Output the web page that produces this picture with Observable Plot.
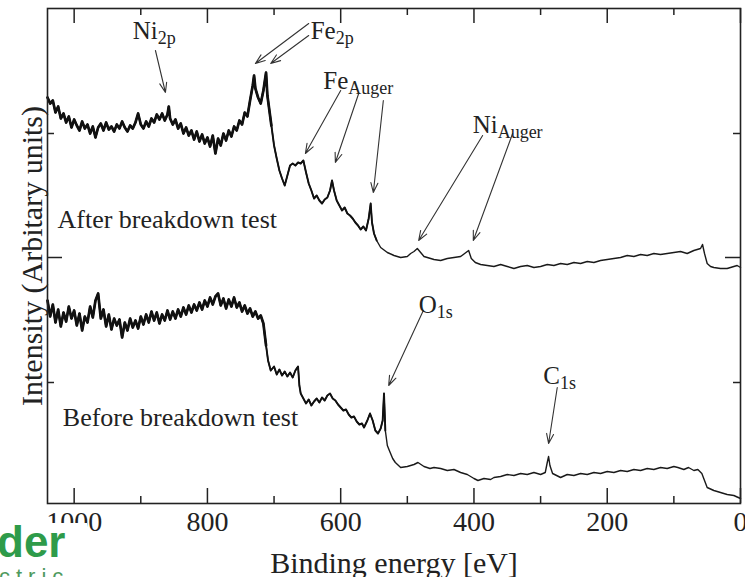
<!DOCTYPE html>
<html><head><meta charset="utf-8">
<script src="https://cdn.jsdelivr.net/npm/d3@7"></script>
<script src="https://cdn.jsdelivr.net/npm/@observablehq/plot@0.6"></script>
<style>
html,body{margin:0;padding:0;background:#fff;}
#wrap{position:relative;width:745px;height:577px;overflow:hidden;}
#logo{position:absolute;left:0;top:523px;width:87px;height:54px;background:#fff;overflow:hidden;}
#logo .der{position:absolute;left:-3px;top:-3px;font-family:'Liberation Sans',Arial,sans-serif;font-weight:bold;font-size:44px;line-height:1;color:#2e9b4a;}
#logo .ctric{position:absolute;left:-1px;top:43px;font-family:'Liberation Sans',Arial,sans-serif;font-size:22px;letter-spacing:6px;line-height:1;color:#4f9a5e;}
</style></head>
<body><div id="wrap"><div id="chart"></div><div id="logo"><div class="der">der</div><div class="ctric">ctric</div></div></div>
<script>
// Binding energy [eV], intensity (arbitrary units)
const afterSpectrum = [
[1040,406],[1036,400],[1032,403],[1028,391],[1024,397],[1020,385],[1016,390],[1012,381],[1008,387],[1004,376],[1000,384],[996,378],[992,373],[988,382],[984,375],[980,379],[976,370],[972,377],[968,366],[964,376],[960,380],[956,373],[952,381],[948,374],[944,377],[940,372],[936,379],[932,375],[928,382],[924,376],[920,372],[916,378],[912,375],[908,381],[904,390],[900,379],[896,375],[892,382],[888,377],[884,385],[880,381],[876,389],[872,384],[868,390],[864,383],[860,389],[858,397],[856,385],[852,379],[848,384],[844,375],[840,380],[836,370],[832,376],[828,368],[824,373],[820,364],[816,372],[812,362],[808,369],[804,360],[800,366],[796,357],[792,368],[788,350],[784,365],[780,358],[776,370],[772,363],[768,373],[764,367],[760,377],[756,373],[752,383],[748,379],[744,391],[740,387],[736,403],[732,418],[730,428],[728,415],[724,406],[720,400],[716,413],[712,431],[710,408],[707,393],[704,378],[700,358],[696,345],[692,333],[688,325],[684,318],[680,328],[676,338],[672,340],[668,338],[664,341],[660,340],[656,343],[652,331],[648,320],[644,313],[640,305],[636,308],[632,303],[628,300],[624,304],[620,306],[616,313],[613,323],[610,313],[606,303],[602,298],[598,293],[594,296],[590,290],[586,288],[582,285],[578,281],[574,278],[570,274],[566,277],[562,273],[558,285],[555,300],[553,281],[550,270],[546,263],[540,256],[530,251],[520,248],[510,246],[500,247],[495,250],[490,252],[485,255],[480,251],[475,247],[470,246],[460,244],[450,243],[440,245],[430,246],[420,247],[412,251],[408,253],[404,245],[398,241],[390,239],[380,238],[370,237],[360,239],[350,237],[340,235],[330,237],[320,238],[310,236],[300,237],[290,239],[280,238],[270,240],[260,239],[250,241],[240,240],[230,242],[220,241],[210,243],[200,244],[190,245],[180,246],[170,248],[160,247],[150,249],[140,248],[130,250],[120,249],[110,250],[100,251],[90,252],[80,250],[70,253],[60,255],[57,259],[54,250],[50,240],[45,237],[40,236],[30,235],[20,235],[10,237],[5,238],[0,236]
];
const beforeSpectrum = [
[1040,203],[1036,187],[1032,199],[1028,181],[1024,194],[1020,177],[1016,191],[1012,182],[1008,197],[1004,185],[1000,193],[996,178],[992,190],[988,173],[984,187],[980,181],[976,197],[972,186],[968,203],[964,210],[960,185],[956,194],[952,177],[948,189],[944,174],[940,185],[936,178],[932,184],[928,166],[924,181],[920,173],[916,185],[912,176],[908,183],[904,175],[900,187],[896,179],[892,189],[888,181],[884,192],[880,183],[876,191],[872,180],[868,189],[864,183],[860,193],[856,184],[852,192],[848,185],[844,194],[840,187],[836,196],[832,189],[828,198],[824,191],[820,199],[816,193],[812,201],[808,194],[804,203],[800,197],[796,206],[792,199],[788,207],[784,210],[780,198],[776,205],[772,195],[768,204],[764,197],[760,206],[756,196],[752,201],[748,192],[744,198],[740,190],[736,195],[732,187],[728,192],[724,185],[720,188],[716,180],[712,158],[709,143],[705,133],[700,137],[696,129],[692,134],[688,128],[684,132],[680,127],[676,131],[672,126],[668,133],[664,137],[662,118],[660,110],[656,105],[652,100],[648,104],[644,98],[640,102],[636,105],[632,101],[628,106],[624,103],[620,108],[616,110],[612,105],[608,103],[604,99],[600,96],[596,93],[592,94],[588,89],[584,86],[580,87],[576,82],[572,79],[568,80],[565,76],[560,83],[556,90],[552,83],[548,73],[544,70],[540,75],[537,83],[535,110],[533,73],[530,58],[527,53],[522,45],[518,41],[510,36],[500,37],[490,39],[484,41],[475,37],[466,35],[460,36],[450,35],[440,33],[430,34],[420,31],[410,29],[400,25],[394,23],[385,25],[375,24],[370,26],[360,27],[350,29],[340,28],[330,30],[320,29],[310,31],[300,29],[293,31],[290,41],[288,47],[286,38],[282,30],[276,28],[270,26],[260,29],[250,28],[240,30],[230,29],[220,31],[210,30],[200,32],[190,31],[180,33],[170,32],[160,34],[150,33],[140,35],[130,34],[120,36],[110,35],[100,37],[94,36],[85,34],[78,36],[70,33],[64,34],[58,30],[54,23],[50,16],[40,13],[30,11],[20,9],[10,8],[0,5]
];

// Peak annotations ("main|subscript")
const labelText = ["Ni|2p", "Fe|2p", "Fe|Auger", "Ni|Auger", "O|1s", "C|1s"];
const labelEv   = [912, 645, 626, 402, 483, 296];
const labelI    = [465, 465, 415, 371, 191, 120];

const arrowFromEv = [878, 648, 648, 600, 573, 536, 387, 342, 476, 275];
const arrowFromI  = [453, 480, 468, 413, 410, 403, 368, 370, 193, 116];
const arrowToEv   = [863, 728, 705, 653, 608, 551, 483, 401, 528, 288];
const arrowToI    = [411, 440, 440, 350, 341, 311, 263, 263, 118, 60];

const curveNames = ["After breakdown test", "Before breakdown test"];
const curveNameEv = [1025, 1017];
const curveNameI  = [276, 78];

const xMajor = [1000, 800, 600, 400, 200, 0];
const xMinor = [900, 700, 500, 300, 100];
const yMajor = [246];
const yMinor = [121, 370];

const xTitle = "Binding energy [eV]";
const yTitle = "Intensity (Arbitary units)";

const after = afterSpectrum.map(([ev, i]) => ({ev, i}));
const before = beforeSpectrum.map(([ev, i]) => ({ev, i}));
const labels = labelText.map((t, k) => ({t, ev: labelEv[k], i: labelI[k]}));
const arrows = arrowFromEv.map((_, k) => ({x1: arrowFromEv[k], y1: arrowFromI[k], x2: arrowToEv[k], y2: arrowToI[k]}));
const names = curveNames.map((t, k) => ({t, ev: curveNameEv[k], i: curveNameI[k]}));

const ink = "#222";
const plot = Plot.plot({
  width: 745, height: 577,
  marginLeft: 47, marginRight: 5, marginTop: 8, marginBottom: 74,
  style: {fontFamily: "'Liberation Serif','Times New Roman',serif", fontSize: "28px", color: ink, background: "#fff", overflow: "visible"},
  x: {domain: [1040, 0]},
  y: {domain: [0, 495], axis: null},
  marks: [
    Plot.tickX(xMajor, {x: d => d, insetTop: 480, stroke: ink, strokeWidth: 1.5}),
    Plot.tickX(xMinor, {x: d => d, insetTop: 488, stroke: ink, strokeWidth: 1.5}),
    Plot.tickX(xMajor, {x: d => d, insetBottom: 480, stroke: ink, strokeWidth: 1.5}),
    Plot.tickX(xMinor, {x: d => d, insetBottom: 488, stroke: ink, strokeWidth: 1.5}),
    Plot.tickY(yMajor, {y: d => d, insetRight: 678, stroke: ink, strokeWidth: 1.5}),
    Plot.tickY(yMinor, {y: d => d, insetRight: 686, stroke: ink, strokeWidth: 1.5}),
    Plot.tickY(yMajor, {y: d => d, insetLeft: 678, stroke: ink, strokeWidth: 1.5}),
    Plot.tickY(yMinor, {y: d => d, insetLeft: 686, stroke: ink, strokeWidth: 1.5}),
    Plot.line(after, {x: "ev", y: "i", stroke: "#1a1a1a", strokeWidth: 1.4}),
    Plot.line(after.filter(d => d.ev >= 545), {x: "ev", y: "i", stroke: "#111", strokeWidth: 1.9}),
    Plot.line(after.filter(d => d.ev >= 704), {x: "ev", y: "i", stroke: "#111", strokeWidth: 2.7}),
    Plot.line(before, {x: "ev", y: "i", stroke: "#1a1a1a", strokeWidth: 1.4}),
    Plot.line(before.filter(d => d.ev >= 533), {x: "ev", y: "i", stroke: "#111", strokeWidth: 1.9}),
    Plot.line(before.filter(d => d.ev >= 712), {x: "ev", y: "i", stroke: "#111", strokeWidth: 2.7}),
    Plot.frame({stroke: ink, strokeWidth: 1.6}),
    Plot.arrow(arrows, {x1: "x1", y1: "y1", x2: "x2", y2: "y2", stroke: "#333", strokeWidth: 1.1, headLength: 14, headAngle: 40}),
    Plot.text(labels, {x: "ev", y: "i", text: "t", textAnchor: "start", lineAnchor: "bottom", fontSize: 25, fill: ink}),
    Plot.text(names, {x: "ev", y: "i", text: "t", textAnchor: "start", lineAnchor: "bottom", fontSize: 26, fill: ink}),
    Plot.axisX({ticks: xMajor, tickSize: 0, tickPadding: 8, tickFormat: d => String(d), label: null, fontSize: 28}),
    Plot.text([xTitle], {frameAnchor: "bottom", textAnchor: "middle", lineAnchor: "bottom", dy: 69, text: d => d, fontSize: 30, fill: ink}),
    Plot.text([yTitle], {frameAnchor: "left", textAnchor: "middle", lineAnchor: "middle", rotate: -90, dx: -15, text: d => d, fontSize: 30, fill: ink})
  ]
});

const ns = "http://www.w3.org/2000/svg";
plot.querySelectorAll("text").forEach(t => {
  const s = t.textContent;
  if (!s.includes("|")) return;
  const [a, b] = s.split("|");
  while (t.firstChild) t.removeChild(t.firstChild);
  const t1 = document.createElementNS(ns, "tspan"); t1.textContent = a; t.appendChild(t1);
  const t2 = document.createElementNS(ns, "tspan"); t2.textContent = b;
  t2.setAttribute("font-size", "0.72em"); t2.setAttribute("dy", "0.3em");
  t.appendChild(t2);
});
document.getElementById("chart").appendChild(plot);
</script></body></html>
